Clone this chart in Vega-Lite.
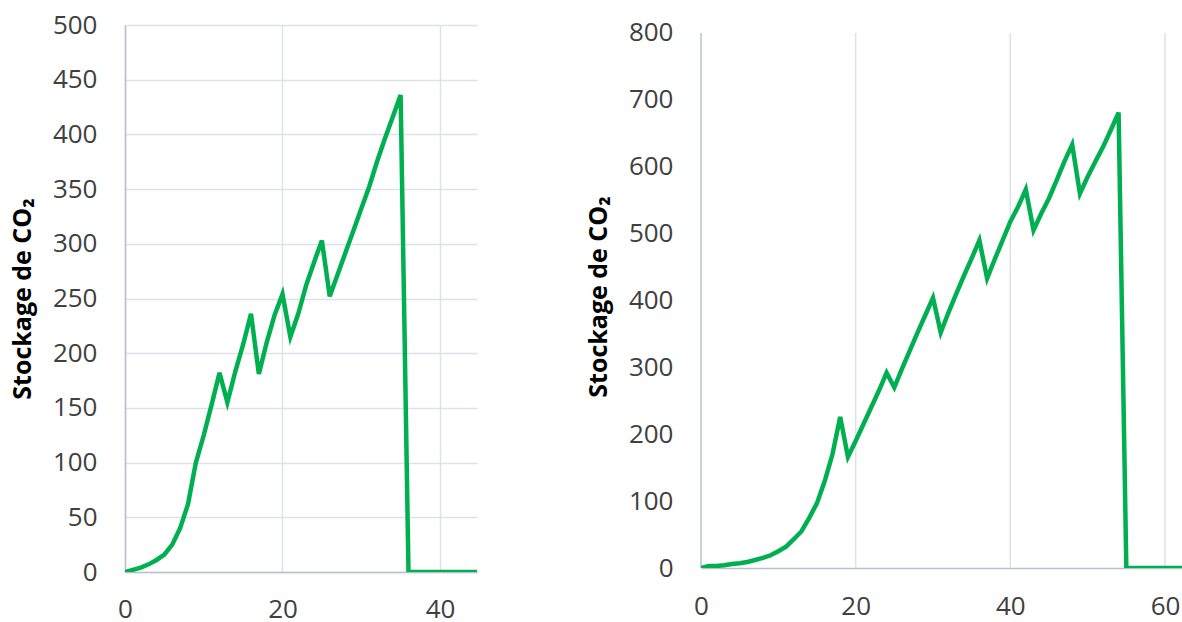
{
  "$schema": "https://vega.github.io/schema/vega-lite/v6.json",
  "background": "white",
  "padding": {"left": 10, "top": 12, "right": 0, "bottom": 0},
  "spacing": 109,
  "config": {
    "view": {"stroke": null},
    "font": "Open Sans",
    "axis": {
      "labelFont": "Open Sans",
      "labelFontSize": 26,
      "labelColor": "#404040",
      "ticks": false,
      "gridColor": "#dde1ea",
      "gridWidth": 1.5,
      "domainColor": "#b8c0d0",
      "domainWidth": 1.5,
      "titleFont": "Open Sans",
      "titleFontWeight": "bold",
      "titleFontSize": 25,
      "titleColor": "#000000"
    }
  },
  "datasets": {
    "gauche": [
      {"t": 0, "v": 0}, {"t": 1, "v": 2}, {"t": 2, "v": 4}, {"t": 3, "v": 7}, {"t": 4, "v": 11},
      {"t": 5, "v": 16}, {"t": 6, "v": 25}, {"t": 7, "v": 40}, {"t": 8, "v": 62}, {"t": 9, "v": 100},
      {"t": 10, "v": 125}, {"t": 11, "v": 153}, {"t": 12, "v": 182}, {"t": 13, "v": 155}, {"t": 14, "v": 183},
      {"t": 15, "v": 208}, {"t": 16, "v": 236}, {"t": 17, "v": 181}, {"t": 18, "v": 210}, {"t": 19, "v": 235},
      {"t": 20, "v": 254}, {"t": 21, "v": 215}, {"t": 22, "v": 236}, {"t": 23, "v": 262}, {"t": 24, "v": 283},
      {"t": 25, "v": 303}, {"t": 26, "v": 252}, {"t": 27, "v": 272}, {"t": 28, "v": 292}, {"t": 29, "v": 312},
      {"t": 30, "v": 332}, {"t": 31, "v": 352}, {"t": 32, "v": 375}, {"t": 33, "v": 396}, {"t": 34, "v": 416},
      {"t": 35, "v": 436}, {"t": 36, "v": 0}, {"t": 37, "v": 0}, {"t": 38, "v": 0}, {"t": 39, "v": 0},
      {"t": 40, "v": 0}, {"t": 41, "v": 0}, {"t": 42, "v": 0}, {"t": 43, "v": 0}, {"t": 44, "v": 0}, {"t": 45, "v": 0}
    ],
    "droite": [
      {"t": 0, "v": 0}, {"t": 1, "v": 3}, {"t": 2, "v": 3}, {"t": 3, "v": 4}, {"t": 4, "v": 6},
      {"t": 5, "v": 7}, {"t": 6, "v": 9}, {"t": 7, "v": 12}, {"t": 8, "v": 15}, {"t": 9, "v": 19},
      {"t": 10, "v": 25}, {"t": 11, "v": 32}, {"t": 12, "v": 43}, {"t": 13, "v": 55}, {"t": 14, "v": 75},
      {"t": 15, "v": 97}, {"t": 16, "v": 130}, {"t": 17, "v": 170}, {"t": 18, "v": 226}, {"t": 19, "v": 166},
      {"t": 20, "v": 190}, {"t": 21, "v": 215}, {"t": 22, "v": 240}, {"t": 23, "v": 265}, {"t": 24, "v": 292},
      {"t": 25, "v": 270}, {"t": 26, "v": 298}, {"t": 27, "v": 325}, {"t": 28, "v": 352}, {"t": 29, "v": 378},
      {"t": 30, "v": 404}, {"t": 31, "v": 352}, {"t": 32, "v": 382}, {"t": 33, "v": 410}, {"t": 34, "v": 437},
      {"t": 35, "v": 463}, {"t": 36, "v": 490}, {"t": 37, "v": 433}, {"t": 38, "v": 462}, {"t": 39, "v": 490},
      {"t": 40, "v": 518}, {"t": 41, "v": 540}, {"t": 42, "v": 566}, {"t": 43, "v": 505}, {"t": 44, "v": 530},
      {"t": 45, "v": 553}, {"t": 46, "v": 580}, {"t": 47, "v": 608}, {"t": 48, "v": 633}, {"t": 49, "v": 560},
      {"t": 50, "v": 585}, {"t": 51, "v": 608}, {"t": 52, "v": 630}, {"t": 53, "v": 655}, {"t": 54, "v": 681},
      {"t": 55, "v": 0}, {"t": 56, "v": 0}, {"t": 57, "v": 0}, {"t": 58, "v": 0}, {"t": 59, "v": 0},
      {"t": 60, "v": 0}, {"t": 61, "v": 0}, {"t": 62, "v": 0}, {"t": 63, "v": 0}
    ]
  },
  "hconcat": [
    {
      "width": 352,
      "height": 547,
      "data": {"name": "gauche"},
      "mark": {"type": "line", "color": "#00b050", "strokeWidth": 4.5, "clip": true},
      "encoding": {
        "x": {
          "field": "t", "type": "quantitative",
          "scale": {"domain": [0, 44.7], "nice": false},
          "axis": {"values": [0, 20, 40], "title": null, "labelPadding": 24, "labelFlush": false}
        },
        "y": {
          "field": "v", "type": "quantitative",
          "scale": {"domain": [0, 500], "nice": false},
          "axis": {"values": [0, 50, 100, 150, 200, 250, 300, 350, 400, 450, 500], "title": "Stockage de CO₂", "labelPadding": 28, "titlePadding": 17}
        }
      }
    },
    {
      "width": 481,
      "height": 543,
      "layer": [
        {
          "data": {"values": [{"g": 20}, {"g": 40}, {"g": 60}]},
          "mark": {"type": "rule", "color": "#dde1ea", "strokeWidth": 1.5},
          "encoding": {
            "x": {"field": "g", "type": "quantitative"},
            "y": {"datum": 0},
            "y2": {"datum": 800}
          }
        },
        {
          "data": {"values": [{"g": 0}]},
          "mark": {"type": "rule", "color": "#b8c0d0", "strokeWidth": 1.5},
          "encoding": {
            "x": {"field": "g", "type": "quantitative"},
            "y": {"datum": 0},
            "y2": {"datum": 800}
          }
        },
        {
          "data": {"name": "droite"},
          "mark": {"type": "line", "color": "#00b050", "strokeWidth": 4.5, "clip": true},
          "encoding": {
            "x": {
              "field": "t", "type": "quantitative",
              "scale": {"domain": [0, 62.2], "nice": false},
              "axis": {"values": [0, 20, 40, 60], "title": null, "labelPadding": 25, "labelFlush": false, "grid": false}
            },
            "y": {
              "field": "v", "type": "quantitative",
              "scale": {"domain": [0, 811.96], "nice": false},
              "axis": {"values": [0, 100, 200, 300, 400, 500, 600, 700, 800], "title": "Stockage de CO₂", "labelPadding": 28, "titlePadding": 17, "domain": false}
            }
          }
        }
      ]
    }
  ]
}
